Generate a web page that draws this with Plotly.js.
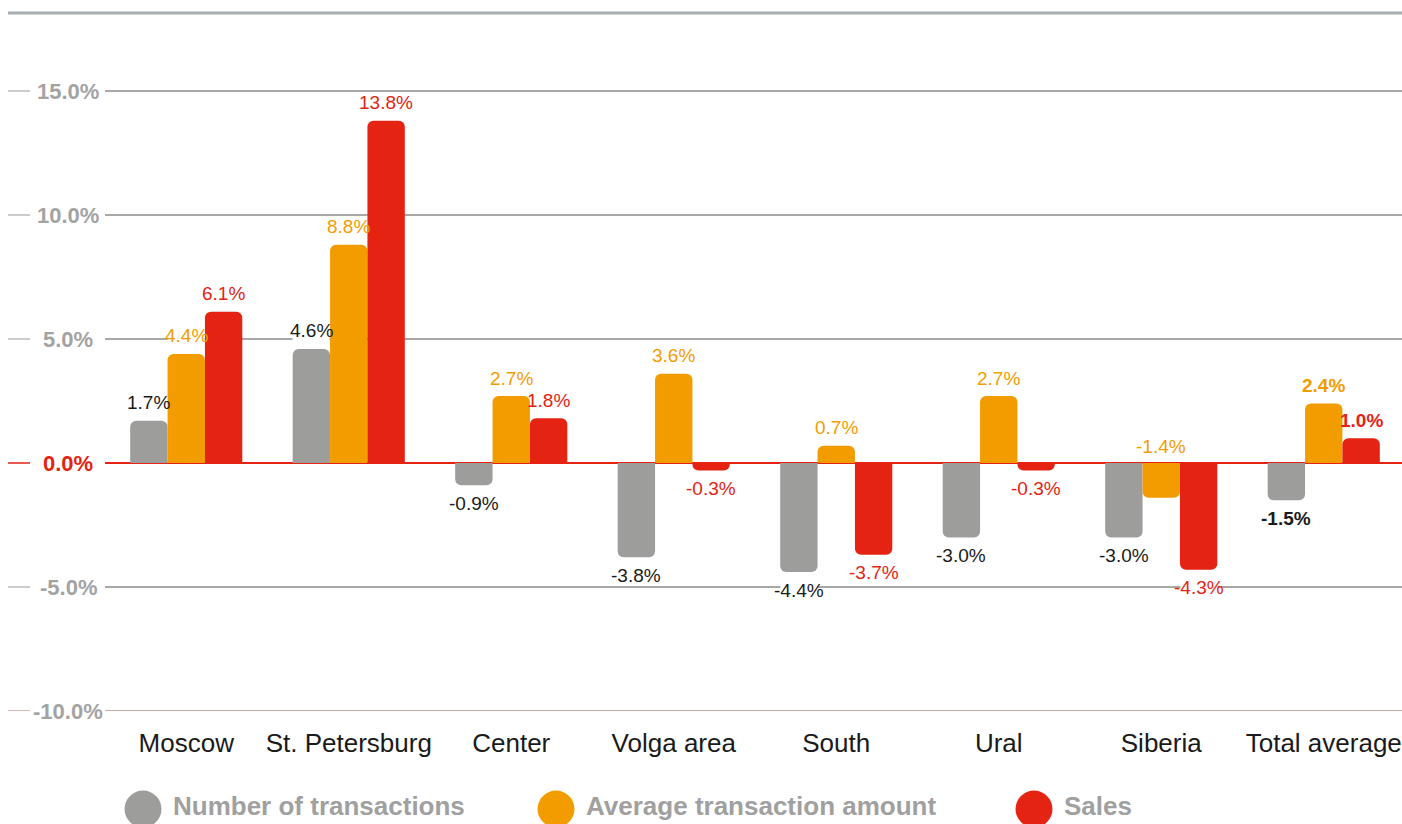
<!DOCTYPE html>
<html>
<head>
<meta charset="utf-8">
<script src="https://cdn.plot.ly/plotly-3.0.1.min.js"></script>
<style>
  html, body { margin: 0; padding: 0; background: #ffffff; }
  #chart { width: 1402px; height: 824px; }
</style>
</head>
<body>
<div id="chart"></div>
<script>
// ---------- data ----------
const categories = ['Moscow', 'St. Petersburg', 'Center', 'Volga area', 'South', 'Ural', 'Siberia', 'Total average'];
const transactions = [1.7, 4.6, -0.9, -3.8, -4.4, -3.0, -3.0, -1.5];
const avgAmount = [4.4, 8.8, 2.7, 3.6, 0.7, 2.7, -1.4, 2.4];
const sales = [6.1, 13.8, 1.8, -0.3, -3.7, -0.3, -4.3, 1.0];
const seriesNames = ['Number of transactions', 'Average transaction amount', 'Sales'];
const yTickVals = [-10, -5, 0, 5, 10, 15];
const yTickText = ['-10.0%', '-5.0%', '0.0%', '5.0%', '10.0%', '15.0%'];

// ---------- styling ----------
const FONT = '"Liberation Sans", Arial, Helvetica, sans-serif';
const barColors = ['#9d9d9c', '#f39c00', '#e42313'];
const labelColors = ['#1a1a1a', '#f39c00', '#e42313'];
const GRID = '#a8a8a8';
const TICKGRAY = '#a3a3a3';
const RED = '#e42313';

const W = 1402, H = 824;
const M = {l: 105, r: 0, t: 13, b: 113};
const plotW = W - M.l - M.r, plotH = H - M.t - M.b;
const catPx = 162.5;                 // pixel width of one category
const xRange = [-0.5, -0.5 + plotW / catPx];
const pxPerUnit = 24.8;
const yRange = [-10, -10 + plotH / pxPerUnit];
const barPx = catPx * 0.23;

const px2x = px => (px - M.l) / plotW;
const py2y = py => (H - M.b - py) / plotH;

const allSeries = [transactions, avgAmount, sales];

// bar traces
const traces = allSeries.map((vals, i) => ({
  type: 'bar',
  name: seriesNames[i],
  x: categories,
  y: vals,
  marker: {color: barColors[i], cornerradius: 6, line: {width: 0}},
  showlegend: false,
  hoverinfo: 'skip'
}));

// value labels
const aboveZeroOverride = {'Siberia|1': true};
const annotations = [];
allSeries.forEach((vals, si) => {
  vals.forEach((v, ci) => {
    const cat = categories[ci];
    const isTotal = cat === 'Total average';
    const txt = v.toFixed(1) + '%';
    let y = v, shift = v >= 0 ? 18 : -18;
    if (aboveZeroOverride[cat + '|' + si]) { y = 0; shift = 17; }
    const centre = y + shift / pxPerUnit;
    const onGrid = yTickVals.some(t => t !== 0 && Math.abs(centre - t) * pxPerUnit < 10);
    if (onGrid) {
      // white backing, no wider than the bar column, to hide the gridline behind the label
      annotations.push({
        x: cat, y: y, xref: 'x', yref: 'y', text: ' ', showarrow: false,
        xshift: (si - 1) * barPx, yshift: shift,
        width: barPx - 1, height: 18, borderpad: 0,
        xanchor: 'center', yanchor: 'middle', bgcolor: '#ffffff',
        font: {family: FONT, size: 12}
      });
    }
    annotations.push({
      x: cat, y: y, xref: 'x', yref: 'y',
      text: isTotal ? '<b>' + txt + '</b>' : txt,
      showarrow: false,
      xshift: (si - 1) * barPx,
      yshift: shift,
      xanchor: 'center', yanchor: 'middle',
      font: {family: FONT, size: 19, color: labelColors[si]}
    });
  });
});

// y tick labels, centred like the reference
yTickVals.forEach((v, i) => {
  annotations.push({
    xref: 'paper', yref: 'y', x: px2x(68), y: v,
    xanchor: 'center', yanchor: 'middle',
    text: '<b>' + yTickText[i] + '</b>', showarrow: false,
    font: {family: FONT, size: 22, color: v === 0 ? RED : TICKGRAY}
  });
});

// legend (circles + labels)
const legendCenters = [143, 556, 1034];
const legendY = 806;
const shapes = [];
seriesNames.forEach((n, i) => {
  shapes.push({
    type: 'circle', xref: 'paper', yref: 'paper',
    xsizemode: 'pixel', ysizemode: 'pixel',
    xanchor: px2x(legendCenters[i]), yanchor: py2y(legendY + 3),
    x0: -18.5, x1: 18.5, y0: -18.5, y1: 18.5,
    fillcolor: barColors[i], line: {width: 0}
  });
  annotations.push({
    xref: 'paper', yref: 'paper',
    x: px2x(legendCenters[i] + 28), y: py2y(legendY),
    xanchor: 'left', yanchor: 'middle',
    text: '<b>' + n + '</b>', showarrow: false,
    font: {family: FONT, size: 26, color: '#a0a0a0'}
  });
});

// top rule
shapes.push({type: 'line', xref: 'paper', yref: 'paper',
  x0: px2x(8), x1: 1, y0: 1, y1: 1, line: {color: '#a7adb0', width: 3}});
// left short segments of each gridline
yTickVals.forEach(v => {
  const c = v === 0 ? RED : (v === -10 ? '#b98c88' : GRID);
  shapes.push({type: 'line', xref: 'paper', yref: 'y',
    x0: px2x(8), x1: px2x(30), y0: v, y1: v, line: {color: c, width: v === 0 ? 1.5 : 1.2}});
});
// -10% line in brownish tint
shapes.push({type: 'line', xref: 'paper', yref: 'y', x0: 0, x1: 1, y0: -10, y1: -10,
  line: {color: '#b98c88', width: 1.5}});

const layout = {
  width: W, height: H,
  margin: M,
  paper_bgcolor: '#ffffff', plot_bgcolor: '#ffffff',
  barmode: 'group', bargap: 0.31, bargroupgap: 0,
  font: {family: FONT},
  xaxis: {
    type: 'category', categoryorder: 'array', categoryarray: categories,
    range: xRange, showgrid: false, zeroline: false, showline: false,
    ticks: '', ticklabelstandoff: 14,
    tickfont: {family: FONT, size: 26, color: '#1a1a1a'},
    fixedrange: true
  },
  yaxis: {
    range: yRange, tickvals: yTickVals,
    showgrid: true, gridcolor: GRID, gridwidth: 1.2,
    zeroline: true, zerolinecolor: RED, zerolinewidth: 1.5,
    showline: false, ticks: '', showticklabels: false,
    fixedrange: true
  },
  shapes: shapes,
  annotations: annotations,
  showlegend: false
};

Plotly.newPlot('chart', traces, layout, {displayModeBar: false, staticPlot: true});
</script>
</body>
</html>
